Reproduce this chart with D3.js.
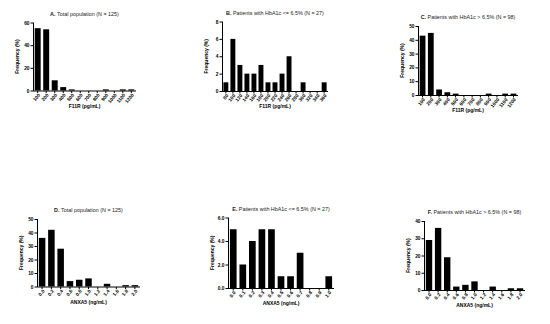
<!DOCTYPE html>
<html>
<head>
<meta charset="utf-8">
<script src="https://cdn.jsdelivr.net/npm/d3@7"></script>
<style>
  html, body { margin: 0; padding: 0; background: #fff; }
  svg { display: block; font-family: "Liberation Sans", Arial, sans-serif; }
  .axis path, .axis line { stroke: #000; stroke-width: 1; }
  .tick text { fill: #000; font-weight: bold; }
</style>
</head>
<body>
<svg id="chart" width="550" height="324"></svg>
<script>
// ─── Data ──────────────────────────────────────────────────────
const f11rBinsWide = ["100", "200", "300", "400", "500", "600", "700", "800", "900", "1000", "1100", "1200"];
const f11rBinsNarrow = ["80", "100", "120", "140", "160", "180", "200", "220", "240", "260", "280", "300", "320", "340", "360"];
const anxa5BinsWide = ["0.0", "0.2", "0.4", "0.6", "0.8", "1.0", "1.2", "1.4", "1.6", "1.8", "2.0"];
const anxa5BinsNarrow = ["0.0", "0.1", "0.2", "0.3", "0.4", "0.5", "0.6", "0.7", "0.8", "0.9", "1.0"];

const f11rTotal = [55, 54, 9, 3, 1, 0, 0, 0, 1, 0, 1, 1];
const f11rLowA1c = [1, 6, 3, 2, 2, 3, 1, 1, 2, 4, 0, 1, 0, 0, 1];
const f11rHighA1c = [43, 45, 4, 2, 1, 0, 0, 0, 1, 0, 1, 1];
const anxa5Total = [36, 42, 28, 4, 5, 6, 0, 2, 0, 1, 1];
const anxa5LowA1c = [5, 2, 4, 5, 5, 1, 1, 3, 0, 0, 1];
const anxa5HighA1c = [29, 36, 19, 2, 3, 5, 0, 2, 0, 1, 1];

const yTicksA = [0, 20, 40, 60];
const yTicksB = [0, 2, 4, 6, 8];
const yTicksC = [0, 10, 20, 30, 40, 50];
const yTicksD = [0, 10, 20, 30, 40, 50];
const yTicksE = [0, 2, 4, 6];
const yTicksF = [0, 10, 20, 30, 40];

const panels = [
  { letter: "A.", title: "Total population (N = 125)", xLabel: "F11R (pg/mL)", cats: f11rBinsWide, values: f11rTotal, yTicks: yTicksA },
  { letter: "B.", title: "Patients with HbA1c <= 6.5% (N = 27)", xLabel: "F11R (pg/mL)", cats: f11rBinsNarrow, values: f11rLowA1c, yTicks: yTicksB },
  { letter: "C.", title: "Patients with HbA1c > 6.5% (N = 98)", xLabel: "F11R (pg/mL)", cats: f11rBinsWide, values: f11rHighA1c, yTicks: yTicksC },
  { letter: "D.", title: "Total population (N = 125)", xLabel: "ANXA5 (ng/mL)", cats: anxa5BinsWide, values: anxa5Total, yTicks: yTicksD },
  { letter: "E.", title: "Patients with HbA1c <= 6.5% (N = 27)", xLabel: "ANXA5 (ng/mL)", cats: anxa5BinsNarrow, values: anxa5LowA1c, yTicks: yTicksE },
  { letter: "F.", title: "Patients with HbA1c > 6.5% (N = 98)", xLabel: "ANXA5 (ng/mL)", cats: anxa5BinsWide, values: anxa5HighA1c, yTicks: yTicksF }
];

// ─── Layout (plot box per panel) ───────────────────────────────
const boxes = [
  { x0: 33, x1: 136, y0: 22.5, y1: 90.5 },
  { x0: 222, x1: 328, y0: 21.5, y1: 91 },
  { x0: 418, x1: 518, y0: 26, y1: 95 },
  { x0: 37, x1: 140, y0: 219, y1: 286.5 },
  { x0: 228, x1: 334, y0: 217.5, y1: 288 },
  { x0: 424, x1: 525, y0: 221, y1: 290 }
];

const svg = d3.select("#chart");

panels.forEach((p, i) => {
  const b = boxes[i];
  const g = svg.append("g");

  const x = d3.scaleBand()
    .domain(p.cats)
    .range([b.x0, b.x1])
    .paddingInner(0.3)
    .paddingOuter(0.2);

  const y = d3.scaleLinear()
    .domain([0, d3.max(p.yTicks)])
    .range([b.y1, b.y0]);

  // bars
  g.append("g")
    .selectAll("rect")
    .data(p.values)
    .join("rect")
    .attr("x", (d, j) => x(p.cats[j]))
    .attr("y", (d) => y(d))
    .attr("width", x.bandwidth())
    .attr("height", (d) => b.y1 - y(d))
    .attr("fill", "#000");

  // y axis
  const yAxis = g.append("g")
    .attr("class", "axis")
    .attr("transform", `translate(${b.x0},0)`)
    .call(d3.axisLeft(y).tickValues(p.yTicks).tickSize(2.5).tickPadding(1).tickSizeOuter(0));
  yAxis.selectAll("text").attr("font-size", 4.8);
  yAxis.select(".domain").attr("d", `M0.5,${b.y1 + 0.5}V${b.y0}`);

  // x axis
  const xAxis = g.append("g")
    .attr("class", "axis")
    .attr("transform", `translate(0,${b.y1 + 0.5})`)
    .call(d3.axisBottom(x).tickSize(2).tickSizeOuter(0).tickPadding(1));
  xAxis.select(".domain").attr("d", `M${b.x0},0H${b.x1}`);
  xAxis.selectAll("text")
    .attr("font-size", 4.8)
    .attr("text-anchor", "end")
    .attr("dy", "0.35em")
    .attr("transform", "translate(1.5,3.2) rotate(-50)")
    .attr("y", 0)
    .attr("x", 0);

  // title
  const t = g.append("text")
    .attr("x", (b.x0 + b.x1) / 2)
    .attr("y", b.y0 - 7)
    .attr("text-anchor", "middle")
    .attr("font-size", 5.4)
    .attr("fill", "#222");
  t.append("tspan").attr("font-weight", "bold").text(p.letter + " ");
  t.append("tspan").text(p.title);

  // axis titles
  g.append("text")
    .attr("transform", `translate(${b.x0 - 14},${(b.y0 + b.y1) / 2}) rotate(-90)`)
    .attr("text-anchor", "middle")
    .attr("font-size", 5)
    .attr("font-weight", "bold")
    .text("Frequency (%)");

  g.append("text")
    .attr("x", (b.x0 + b.x1) / 2)
    .attr("y", b.y1 + 17)
    .attr("text-anchor", "middle")
    .attr("font-size", 5)
    .attr("font-weight", "bold")
    .text(p.xLabel);
});
</script>
</body>
</html>
